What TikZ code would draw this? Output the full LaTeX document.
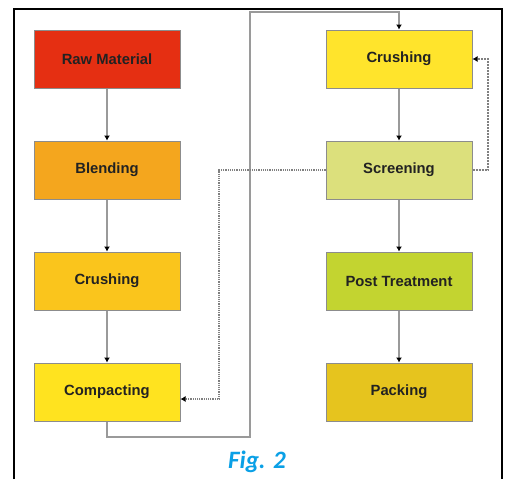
\documentclass[tikz,border=0pt]{standalone}
\usepackage{fontspec}
\setmainfont{Liberation Sans}
\newfontfamily\figfont{Carlito}
\usetikzlibrary{arrows.meta}

\definecolor{rawred}{HTML}{E52F12}
\definecolor{blendorange}{HTML}{F4A61E}
\definecolor{crushamber}{HTML}{FAC51C}
\definecolor{compactyellow}{HTML}{FFE31F}
\definecolor{crushyellow}{HTML}{FFE42C}
\definecolor{screenlime}{HTML}{DCE07C}
\definecolor{treatgreen}{HTML}{C3D430}
\definecolor{packgold}{HTML}{E6C41E}
\definecolor{edgegray}{HTML}{8C8C8C}
\definecolor{linkgray}{HTML}{9A9A9A}
\definecolor{labeldark}{HTML}{222222}
\definecolor{figblue}{HTML}{0AA0E6}

\begin{document}
\begin{tikzpicture}[
x=1pt, y=-1pt,
stagebox/.style={
rectangle,
draw=edgegray,
line width=1pt,
minimum width=146pt,
minimum height=58pt,
inner sep=0 pt,
text=labeldark,
font=\fontsize{14.8}{17}\selectfont\bfseries,
},
flow/.style={
draw=linkgray,
line width=1.2pt,
-{Latex[black, length=5pt, width=6pt]},
}
]
\useasboundingbox (0,0) rectangle (510,479);

% frame
\draw[line width=2pt] (14,479) -- (14,9) -- (502,9) -- (502,479);

% process stages
\node [stagebox, fill=rawred] at (107,59) (raw) {Raw Material};
\node [stagebox, fill=blendorange] at (107,170) (blend) {Blending};
\node [stagebox, fill=crushamber] at (107,281) (crusha) {Crushing};
\node [stagebox, fill=compactyellow] at (107,392) (compact) {Compacting};
\node [stagebox, fill=crushyellow] at (399,59) (crushb) {Crushing};
\node [stagebox, fill=screenlime] at (399,170) (screen) {Screening};
\node [stagebox, fill=treatgreen] at (399,281) (treat) {Post Treatment};
\node [stagebox, fill=packgold] at (399,392) (pack) {Packing};

% straight flow
\draw [flow] (raw) -- (blend);
\draw [flow] (blend) -- (crusha);
\draw [flow] (crusha) -- (compact);
\draw [flow] (crushb) -- (screen);
\draw [flow] (screen) -- (treat);
\draw [flow] (treat) -- (pack);

% routing points
\path
(107,437) coordinate(under)
(250,12) coordinate(over)
(219,399) coordinate(back)
(488,170) coordinate(side)
;

% compacting to second crushing
\draw [flow] (compact.south) -- (under) -| (over) -| (crushb.north);

% returns
\draw [flow, densely dotted, draw=gray] (screen.west) -| (back) -- (back -| compact.east);
\draw [flow, dash pattern=on 2pt off 1pt, draw=gray] (screen.east) -- (side) |- (crushb.east);

% caption
\node [anchor=base, text=figblue, font=\fontsize{25}{28}\selectfont\figfont\bfseries\itshape] at (257,468) (caption) {Fig. 2};

\end{tikzpicture}
\end{document}
